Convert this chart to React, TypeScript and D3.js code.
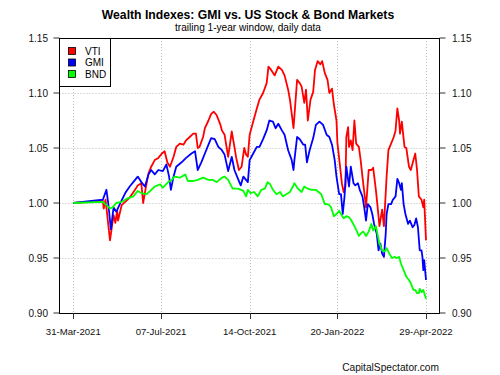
import React from "react";
import * as d3 from "d3";

// x categories: days since 31-Mar-2021 (data are trading-day readings)
const startDate = Date.UTC(2021, 2, 31);
const endDate = Date.UTC(2022, 3, 29);
const xTickLabels = ["31-Mar-2021", "07-Jul-2021", "14-Oct-2021", "20-Jan-2022", "29-Apr-2022"];
const xTickDates = [Date.UTC(2021, 2, 31), Date.UTC(2021, 6, 7), Date.UTC(2021, 9, 14), Date.UTC(2022, 0, 20), Date.UTC(2022, 3, 29)];
const yTicks = [0.9, 0.95, 1.0, 1.05, 1.1, 1.15];

const vtiDay = [0,33,34,36,41,45,47,49,50,54,58,63,69,72,76,78,81,84,87,91,95,99,102,105,108,112,115,119,123,126,130,134,137,139,141,145,147,151,154,157,160,164,166,169,173,177,180,182,185,188,191,193,195,197,201,205,208,212,216,218,221,225,229,233,236,240,242,244,246,247,250,253,255,258,260,262,265,268,270,273,276,278,281,284,286,289,291,294,295,298,300,302,304,305,307,308,310,312,314,316,319,321,323,327,330,333,335,338,340,342,345,347,350,352,355,358,360,362,364,365,367,370,372,375,377,380,382,384,386,389,391,392,394];
const vtiVal = [1.000,1.002,0.995,1.003,0.966,0.989,0.982,0.993,0.984,0.998,1.001,1.005,1.012,1.016,1.018,1.000,1.014,1.027,1.033,1.039,1.041,1.045,1.047,1.037,1.033,1.042,1.051,1.054,1.053,1.057,1.060,1.063,1.063,1.050,1.051,1.060,1.068,1.075,1.081,1.083,1.080,1.072,1.066,1.062,1.042,1.065,1.051,1.041,1.030,1.033,1.050,1.044,1.042,1.062,1.074,1.086,1.094,1.100,1.109,1.124,1.121,1.116,1.124,1.121,1.116,1.103,1.094,1.081,1.068,1.079,1.112,1.109,1.106,1.091,1.103,1.075,1.094,1.101,1.121,1.129,1.126,1.129,1.118,1.112,1.100,1.104,1.090,1.075,1.055,1.033,1.018,1.010,1.015,1.060,1.069,1.051,1.057,1.048,1.075,1.054,1.051,1.039,1.024,0.996,1.030,1.030,1.032,1.012,0.996,0.979,0.994,0.979,1.024,1.048,1.054,1.060,1.066,1.086,1.075,1.063,1.074,1.051,1.050,1.033,1.030,1.039,1.045,1.030,1.006,1.003,0.996,1.003,0.966];

const gmiDay = [0,33,37,39,42,45,48,52,58,63,69,72,76,80,84,87,91,95,100,104,107,109,112,115,121,126,132,136,139,143,147,151,154,158,162,166,169,173,177,180,184,187,190,193,195,197,201,205,208,212,216,219,223,226,229,233,236,240,244,246,247,250,253,257,259,261,264,268,271,275,279,283,286,289,292,294,297,299,301,303,305,308,310,313,315,318,320,323,325,327,329,332,334,336,339,341,343,345,347,349,350,352,355,357,360,362,364,366,367,369,371,374,376,379,381,383,385,387,389,390,391,392,394];
const gmiVal = [1.000,1.003,1.012,1.000,0.976,0.996,0.992,0.999,1.009,1.015,1.021,1.024,1.019,1.015,1.026,1.030,1.026,1.030,1.029,1.035,1.024,1.012,1.024,1.033,1.037,1.041,1.045,1.047,1.030,1.037,1.045,1.053,1.059,1.058,1.051,1.048,1.044,1.029,1.042,1.030,1.022,1.016,1.024,1.021,1.019,1.039,1.045,1.051,1.051,1.058,1.066,1.075,1.074,1.068,1.072,1.066,1.062,1.048,1.039,1.030,1.039,1.060,1.058,1.053,1.053,1.037,1.048,1.059,1.071,1.074,1.071,1.062,1.060,1.053,1.039,1.024,1.008,1.008,0.990,1.006,1.033,1.015,1.033,1.018,1.016,1.018,1.012,1.006,0.996,0.984,0.999,0.996,0.990,0.981,0.972,0.957,0.963,0.954,0.951,0.972,0.990,0.999,0.999,1.003,1.006,1.022,1.018,1.012,1.018,0.999,0.990,0.981,0.984,0.978,0.980,0.986,0.978,0.957,0.957,0.951,0.939,0.948,0.930];

const bndDay = [0,33,37,41,44,48,54,60,67,72,76,82,86,91,97,100,106,110,113,119,125,128,134,139,145,151,156,160,166,169,173,178,184,190,193,195,198,202,206,210,214,217,220,223,227,231,234,238,242,246,247,251,255,258,262,266,271,277,281,284,286,288,291,294,297,299,302,305,308,310,314,317,319,322,324,327,330,333,335,338,340,342,345,348,350,353,356,359,361,364,366,369,372,375,377,380,382,384,386,387,389,391,394];
const bndVal = [1.000,1.001,0.998,0.995,0.996,1.000,1.001,1.004,1.006,1.011,1.009,1.008,1.011,1.015,1.017,1.014,1.019,1.021,1.024,1.023,1.026,1.020,1.020,1.021,1.023,1.021,1.021,1.019,1.023,1.024,1.021,1.013,1.013,1.011,1.006,1.012,1.009,1.010,1.006,1.012,1.013,1.019,1.017,1.012,1.008,1.010,1.006,1.008,1.010,1.016,1.018,1.013,1.010,1.015,1.013,1.012,1.012,1.008,0.999,0.999,0.998,0.996,0.988,0.990,0.993,0.990,0.986,0.988,0.987,0.985,0.979,0.974,0.970,0.973,0.974,0.970,0.974,0.981,0.975,0.979,0.971,0.963,0.957,0.956,0.959,0.954,0.950,0.951,0.950,0.951,0.945,0.939,0.933,0.930,0.927,0.921,0.921,0.918,0.918,0.922,0.919,0.921,0.913];

const seriesNames = ["VTI", "GMI", "BND"];
const seriesColors = ["#ff0000", "#0000ff", "#00ff00"];

const W = 500;
const H = 375;
const L = 59.5, R = 439.5, T = 38, B = 313;

export default function App() {
  const x = d3.scaleUtc().domain([new Date(startDate), new Date(endDate)]).range([73.3, 426]);
  const y = d3.scaleLinear().domain([0.9, 1.15]).range([B, T]);
  const toPts = (days: number[], vals: number[]) =>
    days.map((d, i) => ({ date: d3.utcDay.offset(new Date(startDate), d), v: vals[i] }));
  const line = d3.line<{ date: Date; v: number }>().x((d) => x(d.date)).y((d) => y(d.v));
  const series = [toPts(vtiDay, vtiVal), toPts(gmiDay, gmiVal), toPts(bndDay, bndVal)];
  const font = "'Liberation Sans', Arial, sans-serif";
  return (
    <svg width={W} height={H} style={{ position: "absolute", left: 0, top: 0, background: "#fff" }} fontFamily={font}>
      <rect x={0} y={0} width={W} height={H} fill="#fff" />
      <text x={248} y={18.5} textAnchor="middle" fontSize={12.2} fontWeight="bold" fill="#000">
        Wealth Indexes: GMI vs. US Stock &amp; Bond Markets
      </text>
      <text x={248} y={30.5} textAnchor="middle" fontSize={10.1} fill="#000">
        trailing 1-year window, daily data
      </text>
      {/* grid */}
      {xTickDates.map((d, i) => (
        <line key={"gx" + i} x1={Math.round(x(new Date(d))) + 0.5} x2={Math.round(x(new Date(d))) + 0.5} y1={T} y2={B} stroke="#bdbdbd" strokeDasharray="1 2" />
      ))}
      {yTicks.slice(1, -1).map((t, i) => (
        <line key={"gy" + i} x1={L} x2={R} y1={Math.round(y(t)) + 0.5} y2={Math.round(y(t)) + 0.5} stroke="#bdbdbd" strokeDasharray="1 2" />
      ))}
      {/* series */}
      {series.map((s, i) => (
        <path key={seriesNames[i]} d={line(s) || ""} fill="none" stroke={seriesColors[i]} strokeWidth={1.8} strokeLinejoin="round" />
      ))}
      {/* box */}
      <rect x={L} y={T + 0.5} width={R - L} height={B - T} fill="none" stroke="#000" strokeWidth={1} />
      {/* y ticks left/right */}
      {yTicks.map((t, i) => (
        <g key={"yt" + i}>
          <line x1={L - 6} x2={L} y1={y(t)} y2={y(t)} stroke="#333" />
          <line x1={R} x2={R + 6} y1={y(t)} y2={y(t)} stroke="#333" />
          <text x={48} y={y(t) + 3.6} textAnchor="end" fontSize={10} fill="#111">{t.toFixed(2)}</text>
          <text x={452} y={y(t) + 3.6} textAnchor="start" fontSize={10} fill="#111">{t.toFixed(2)}</text>
        </g>
      ))}
      {/* x ticks */}
      {xTickDates.map((d, i) => (
        <g key={"xt" + i}>
          <line x1={Math.round(x(new Date(d))) + 0.5} x2={Math.round(x(new Date(d))) + 0.5} y1={B} y2={B + 6} stroke="#333" />
          <text x={x(new Date(d))} y={335} textAnchor="middle" fontSize={9.6} fill="#111">{xTickLabels[i]}</text>
        </g>
      ))}
      {/* legend */}
      <rect x={L} y={T + 0.5} width={51} height={48} fill="#fff" stroke="#000" strokeWidth={1} />
      {seriesNames.map((n, i) => (
        <g key={"lg" + i}>
          <rect x={68.5} y={47.5 + i * 11.5} width={7} height={7} fill={seriesColors[i]} stroke="#000" strokeWidth={0.8} />
          <text x={85} y={54.6 + i * 11.5} fontSize={10} fill="#000">{n}</text>
        </g>
      ))}
      <text x={439} y={371} textAnchor="end" fontSize={10.2} fill="#111">CapitalSpectator.com</text>
    </svg>
  );
}
